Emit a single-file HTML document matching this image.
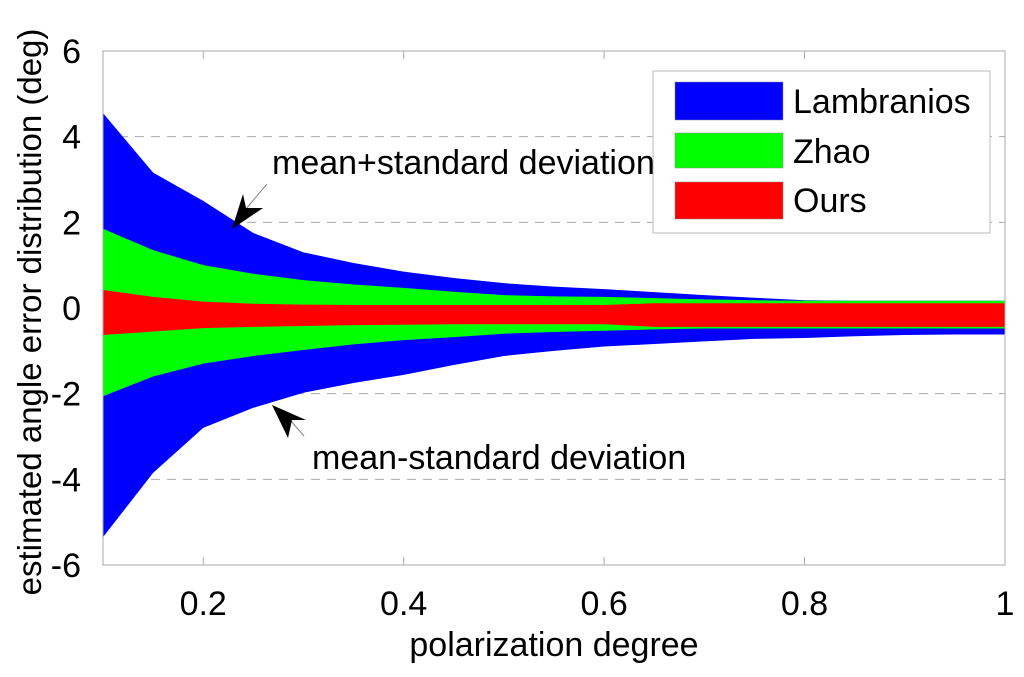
<!DOCTYPE html>
<html><head><meta charset="utf-8"><style>
body{margin:0;background:#fff;}
svg text{font-family:"Liberation Sans",sans-serif;fill:#000;}
</style></head><body>
<svg id="chart" width="1024" height="672" xmlns="http://www.w3.org/2000/svg">
<g id="grid"></g>
<g id="bands"></g>
<g id="axes"></g>
<g>
<rect x="653" y="71" width="337" height="162" fill="#fff" stroke="#bbb"/>
<rect x="675" y="82" width="108" height="38" fill="#0000ff" stroke="#888" stroke-width="0.5"/>
<text x="793" y="113" font-size="34">Lambranios</text>
<rect x="675" y="133" width="108" height="35" fill="#00ff00" stroke="#888" stroke-width="0.5"/>
<text x="793" y="163" font-size="34">Zhao</text>
<rect x="675" y="182" width="108" height="37" fill="#ff0000" stroke="#888" stroke-width="0.5"/>
<text x="793" y="212" font-size="34">Ours</text>
</g>
<g>
<text x="272" y="174" font-size="34">mean+standard deviation</text>
<line x1="267" y1="184" x2="245" y2="210" stroke="#888" stroke-width="1"/>
<polygon points="232,229 243,194 246,208 263,208" fill="#000"/>
</g>
<g>
<text x="312" y="469" font-size="34">mean-standard deviation</text>
<line x1="304" y1="436" x2="290" y2="420" stroke="#888" stroke-width="1"/>
<polygon points="272,405 306,420 292,420 288,438" fill="#000"/>
</g>
<text x="554" y="656" font-size="34" text-anchor="middle">polarization degree</text>
<text transform="translate(41,312) rotate(-90)" font-size="33" text-anchor="middle">estimated angle error distribution (deg)</text>
</svg>
<script>
const xs=[0.1,0.15,0.2,0.25,0.3,0.35,0.4,0.45,0.5,0.55,0.6,0.65,0.7,0.75,0.8,0.85,0.9,0.95,1.0];
const blueTop=[4.55,3.16,2.5,1.75,1.3,1.05,0.85,0.7,0.58,0.5,0.44,0.37,0.3,0.24,0.18,0.17,0.17,0.17,0.17];
const blueBot=[-5.35,-3.85,-2.8,-2.33,-1.98,-1.75,-1.56,-1.33,-1.12,-1.0,-0.9,-0.84,-0.78,-0.72,-0.7,-0.66,-0.63,-0.62,-0.62];
const greenTop=[1.85,1.35,1.0,0.8,0.65,0.55,0.47,0.38,0.3,0.27,0.26,0.23,0.2,0.18,0.17,0.17,0.17,0.17,0.17];
const greenBot=[-2.06,-1.6,-1.3,-1.12,-0.98,-0.85,-0.75,-0.68,-0.6,-0.56,-0.53,-0.5,-0.48,-0.48,-0.48,-0.48,-0.48,-0.48,-0.48];
const redTop=[0.42,0.26,0.15,0.1,0.08,0.07,0.07,0.07,0.07,0.07,0.07,0.11,0.11,0.11,0.11,0.11,0.11,0.11,0.11];
const redBot=[-0.63,-0.55,-0.47,-0.44,-0.42,-0.4,-0.39,-0.38,-0.38,-0.38,-0.38,-0.44,-0.44,-0.44,-0.44,-0.44,-0.44,-0.44,-0.44];
const xTicks=[0.2,0.4,0.6,0.8,1];
const xTickLabels=["0.2","0.4","0.6","0.8","1"];
const yTicks=[-6,-4,-2,0,2,4,6];
const yTickLabels=["-6","-4","-2","0","2","4","6"];
const L=103,R=1005,T=51,B=565;
const X=v=>L+(v-0.1)/0.9*(R-L);
const Y=v=>B-(v+6)/12*(B-T);
const NS="http://www.w3.org/2000/svg";
function mk(tag,parent,attrs){const e=document.createElementNS(NS,tag);for(const k in attrs)e.setAttribute(k,attrs[k]);parent.appendChild(e);return e;}
const grid=document.getElementById('grid'),bands=document.getElementById('bands'),axes=document.getElementById('axes');
yTicks.forEach((t,i)=>{
 if(t>-6&&t<6){const g=mk('line',grid,{x1:L,x2:R,y1:Y(t),y2:Y(t),stroke:'#aaa','stroke-dasharray':'9,7'});
 
 }
 const tx=mk('text',axes,{x:L-22,y:Y(t)+12,'font-size':34,'text-anchor':'end'});tx.textContent=yTickLabels[i];
 
 
});
function band(top,bot,color,name){
 let pts=xs.map((x,i)=>X(x)+','+Y(top[i]));
 pts=pts.concat(xs.map((x,i)=>X(x)+','+Y(bot[i])).reverse());
 const p=mk('polygon',bands,{points:pts.join(' '),fill:color});
 
 
}
band(blueTop,blueBot,'#0000ff','band-lambranios');
band(greenTop,greenBot,'#00ff00','band-zhao');
band(redTop,redBot,'#ff0000','band-ours');
const box=mk('rect',axes,{x:L,y:T,width:R-L,height:B-T,fill:'none',stroke:'#aaa'});


xTicks.forEach((t,i)=>{
 mk('line',axes,{x1:X(t),x2:X(t),y1:B,y2:B-8,stroke:'#aaa'});
 mk('line',axes,{x1:X(t),x2:X(t),y1:T,y2:T+8,stroke:'#aaa'});
 const tx=mk('text',axes,{x:X(t),y:B+50,'font-size':34,'text-anchor':'middle'});tx.textContent=xTickLabels[i];
 
 
});
</script>
</body></html>
